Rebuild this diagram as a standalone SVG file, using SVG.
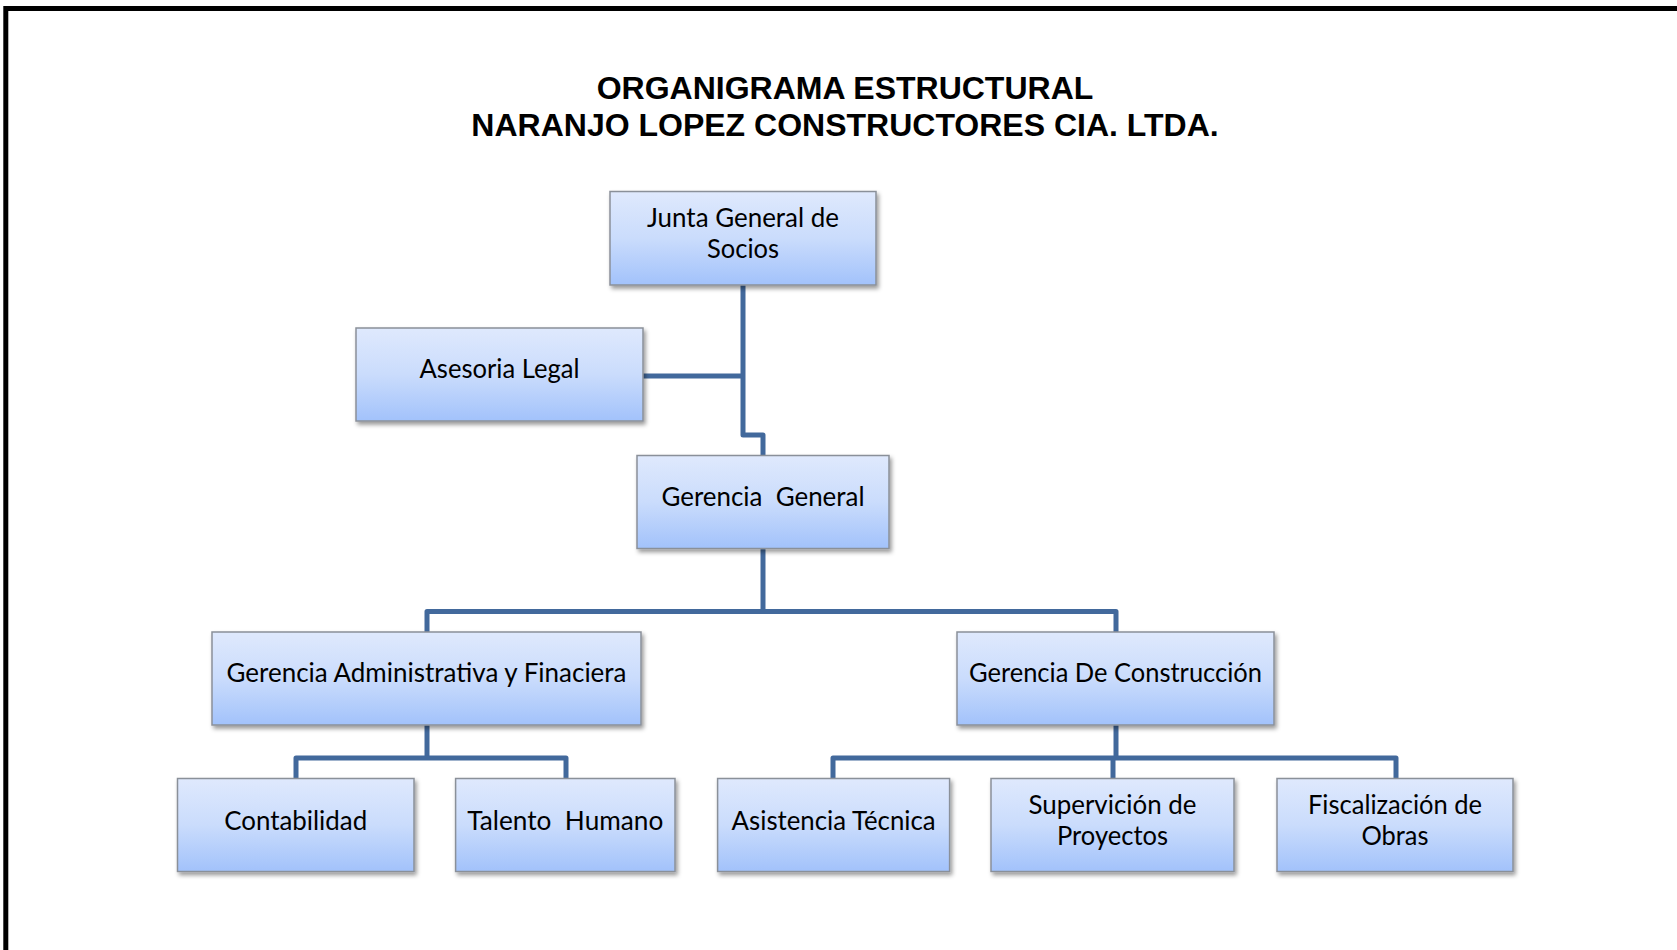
<svg xmlns="http://www.w3.org/2000/svg" width="1677" height="950" viewBox="0 0 1677 950">
  <defs>
    <linearGradient id="boxfill" x1="0" y1="0" x2="0" y2="1">
      <stop offset="0" stop-color="#dfe9fd"/>
      <stop offset="0.5" stop-color="#cadcfc"/>
      <stop offset="1" stop-color="#a2c2fb"/>
    </linearGradient>
    <filter id="shadow" x="-10%" y="-10%" width="125%" height="130%">
      <feDropShadow dx="2" dy="3" stdDeviation="2.2" flood-color="#000" flood-opacity="0.4"/>
    </filter>
    <style>
      .box { fill: url(#boxfill); stroke: #8a9099; stroke-width: 1.5; filter: url(#shadow); }
      .lbl { font-family: Lato, "Noto Sans", "Liberation Sans", sans-serif; font-size: 27.5px; fill: #000; text-anchor: middle; }
      .title { font-family: "Liberation Sans", Arial, sans-serif; font-weight: bold; font-size: 32px; fill: #000; text-anchor: middle; }
      .conn { fill: none; stroke: #42699c; stroke-width: 5; stroke-linejoin: round; stroke-linecap: butt; }
    </style>
  </defs>
  <rect x="0" y="0" width="1677" height="950" fill="#ffffff"/>
  <path d="M 5.8 950 V 8.5 H 1677" fill="none" stroke="#000" stroke-width="5"/>

  <g id="title">
    <text class="title" x="845" y="99">ORGANIGRAMA ESTRUCTURAL</text>
    <text class="title" x="845" y="136">NARANJO LOPEZ CONSTRUCTORES CIA. LTDA.</text>
  </g>

  <g id="connectors">
    <path class="conn" d="M 743 285 V 435 H 763 V 456"/>
    <path class="conn" d="M 643 376 H 743"/>
    <path class="conn" d="M 763 549 V 611.5"/>
    <path class="conn" d="M 427 632 V 611.5 H 1116 V 632"/>
    <path class="conn" d="M 427 725 V 758"/>
    <path class="conn" d="M 296 778.5 V 758 H 566 V 778.5"/>
    <path class="conn" d="M 1116 725 V 758"/>
    <path class="conn" d="M 833 778.5 V 758 H 1396 V 778.5"/>
    <path class="conn" d="M 1113 758 V 778.5"/>
  </g>

  <g id="junta">
    <rect class="box" x="610" y="191.5" width="266" height="93.5"/>
    <text class="lbl" x="743" y="226.5" textLength="192" lengthAdjust="spacingAndGlyphs">Junta General de</text>
    <text class="lbl" x="743" y="257.5" textLength="72" lengthAdjust="spacingAndGlyphs">Socios</text>
  </g>
  <g id="asesoria">
    <rect class="box" x="356" y="328" width="287" height="93"/>
    <text class="lbl" x="499.5" y="378" textLength="160" lengthAdjust="spacingAndGlyphs">Asesoria Legal</text>
  </g>
  <g id="gerencia-general">
    <rect class="box" x="637" y="455.5" width="252" height="93"/>
    <text class="lbl" x="763" y="505.5" xml:space="preserve" textLength="203" lengthAdjust="spacingAndGlyphs">Gerencia  General</text>
  </g>
  <g id="gerencia-admin">
    <rect class="box" x="212" y="632" width="429" height="93"/>
    <text class="lbl" x="426.5" y="681.5" textLength="400" lengthAdjust="spacingAndGlyphs">Gerencia Administrativa y Finaciera</text>
  </g>
  <g id="gerencia-construccion">
    <rect class="box" x="957" y="632" width="317" height="93"/>
    <text class="lbl" x="1115.5" y="681.5" textLength="293" lengthAdjust="spacingAndGlyphs">Gerencia De Construcción</text>
  </g>
  <g id="contabilidad">
    <rect class="box" x="177.5" y="778.5" width="236.5" height="93"/>
    <text class="lbl" x="295.7" y="829.5" textLength="143" lengthAdjust="spacingAndGlyphs">Contabilidad</text>
  </g>
  <g id="talento">
    <rect class="box" x="455.6" y="778.5" width="219.4" height="93"/>
    <text class="lbl" x="565.3" y="829.5" xml:space="preserve" textLength="196" lengthAdjust="spacingAndGlyphs">Talento  Humano</text>
  </g>
  <g id="asistencia">
    <rect class="box" x="717.6" y="778.5" width="232" height="93"/>
    <text class="lbl" x="833.6" y="829.5" textLength="204" lengthAdjust="spacingAndGlyphs">Asistencia Técnica</text>
  </g>
  <g id="supervicion">
    <rect class="box" x="991" y="778.5" width="243" height="93"/>
    <text class="lbl" x="1112.5" y="813.5" textLength="168" lengthAdjust="spacingAndGlyphs">Supervición de</text>
    <text class="lbl" x="1112.5" y="844.5" textLength="111" lengthAdjust="spacingAndGlyphs">Proyectos</text>
  </g>
  <g id="fiscalizacion">
    <rect class="box" x="1277" y="778.5" width="236" height="93"/>
    <text class="lbl" x="1395" y="813.5" textLength="174" lengthAdjust="spacingAndGlyphs">Fiscalización de</text>
    <text class="lbl" x="1395" y="844.5" textLength="67" lengthAdjust="spacingAndGlyphs">Obras</text>
  </g>
</svg>
